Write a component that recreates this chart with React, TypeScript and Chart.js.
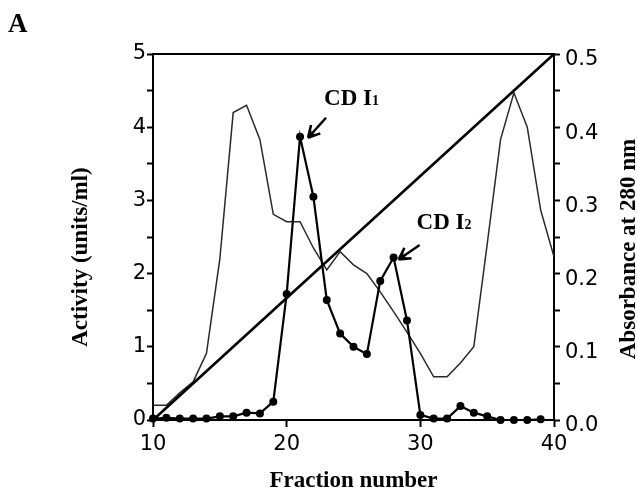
import React, { useEffect, useRef } from 'react';
import { Chart, registerables } from 'chart.js';

Chart.register(...registerables);

// Fraction numbers for the activity (filled circles) series
const activityFractions = [10, 11, 12, 13, 14, 15, 16, 17, 18, 19, 20, 21, 22, 23, 24, 25, 26, 27, 28, 29, 30, 31, 32, 33, 34, 35, 36, 37, 38, 39];
// Activity (units/ml)
const activity = [0.02, 0.03, 0.02, 0.02, 0.02, 0.05, 0.05, 0.1, 0.09, 0.25, 1.72, 3.87, 3.05, 1.64, 1.18, 1.0, 0.9, 1.9, 2.22, 1.36, 0.07, 0.02, 0.02, 0.19, 0.1, 0.05, 0.0, 0.0, 0.0, 0.01];

// Absorbance at 280 nm (thin line)
const absorbanceFractions = [10, 11, 12, 13, 14, 15, 16, 17, 18, 19, 20, 21, 22, 23, 24, 25, 26, 27, 28, 29, 30, 31, 32, 33, 34, 35, 36, 37, 38, 39, 40];
const absorbance = [0.02, 0.02, 0.037, 0.052, 0.091, 0.22, 0.42, 0.43, 0.383, 0.281, 0.271, 0.271, 0.235, 0.205, 0.23, 0.212, 0.2, 0.175, 0.148, 0.12, 0.091, 0.059, 0.059, 0.078, 0.1, 0.24, 0.383, 0.447, 0.4, 0.287, 0.223];

// Linear gradient (straight line)
const gradientFractions = [10, 40];
const gradient = [0, 5];

// Axis ranges / ticks
const xTickStep = 10;
const xRange = [10, 40];
const leftRange = [0, 5];
const leftStep = 0.5;
const rightRange = [0, 0.5];
const rightStep = 0.05;

// Annotations
const peakLabels = [
  { main: 'CD I', sub: '1', fraction: 21 },
  { main: 'CD I', sub: '2', fraction: 28 },
];

const panelLetter = 'A';
const xTitle = 'Fraction number';
const leftTitle = 'Activity (units/ml)';
const rightTitle = 'Absorbance at 280 nm';

const SERIF = '"Liberation Serif", "Times New Roman", serif';
const SANS = '"DejaVu Sans", Verdana, sans-serif';

function drawArrow(ctx: CanvasRenderingContext2D, tipX: number, tipY: number, tailX: number, tailY: number) {
  const ang = Math.atan2(tailY - tipY, tailX - tipX);
  ctx.save();
  ctx.strokeStyle = '#000';
  ctx.fillStyle = '#000';
  ctx.lineWidth = 2.5;
  ctx.lineCap = 'butt';
  ctx.beginPath();
  ctx.moveTo(tipX + Math.cos(ang) * 4, tipY + Math.sin(ang) * 4);
  ctx.lineTo(tailX, tailY);
  ctx.stroke();
  const armLen = 13;
  const spread = 0.5;
  const a1 = ang + spread;
  const a2 = ang - spread;
  const notch = 6;
  ctx.beginPath();
  ctx.moveTo(tipX, tipY);
  ctx.lineTo(tipX + Math.cos(a1) * armLen, tipY + Math.sin(a1) * armLen);
  ctx.lineTo(tipX + Math.cos(a1) * (armLen - 2.5), tipY + Math.sin(a1) * (armLen - 2.5));
  ctx.lineTo(tipX + Math.cos(ang) * notch, tipY + Math.sin(ang) * notch);
  ctx.lineTo(tipX + Math.cos(a2) * (armLen - 2.5), tipY + Math.sin(a2) * (armLen - 2.5));
  ctx.lineTo(tipX + Math.cos(a2) * armLen, tipY + Math.sin(a2) * armLen);
  ctx.closePath();
  ctx.fill();
  ctx.lineWidth = 2.5;
  ctx.beginPath();
  ctx.moveTo(tipX, tipY);
  ctx.lineTo(tipX + Math.cos(a1) * armLen, tipY + Math.sin(a1) * armLen);
  ctx.moveTo(tipX, tipY);
  ctx.lineTo(tipX + Math.cos(a2) * armLen, tipY + Math.sin(a2) * armLen);
  ctx.stroke();
  ctx.restore();
}

const decorPlugin = {
  id: 'decor',
  afterDraw(chart: any) {
    const ctx: CanvasRenderingContext2D = chart.ctx;
    const area = chart.chartArea;
    const xs = chart.scales.x;
    const ys = chart.scales.y;
    ctx.save();
    // top frame line
    ctx.strokeStyle = '#000';
    ctx.lineWidth = 2;
    ctx.beginPath();
    ctx.moveTo(area.left - 1, area.top);
    ctx.lineTo(area.right + 1, area.top);
    ctx.stroke();

    ctx.fillStyle = '#000';
    // panel letter
    ctx.font = `bold 27px ${SERIF}`;
    ctx.textAlign = 'left';
    ctx.textBaseline = 'alphabetic';
    ctx.fillText(panelLetter, 8, 32);

    // x title
    ctx.font = `bold 23px ${SERIF}`;
    ctx.textAlign = 'center';
    ctx.fillText(xTitle, (area.left + area.right) / 2, 487);

    // left title (rotated)
    ctx.save();
    ctx.translate(87, 257);
    ctx.rotate(-Math.PI / 2);
    ctx.textAlign = 'center';
    ctx.fillText(leftTitle, 0, 0);
    ctx.restore();

    // right title (rotated, reading upward)
    ctx.save();
    ctx.translate(635, 249);
    ctx.rotate(-Math.PI / 2);
    ctx.textAlign = 'center';
    ctx.fillText(rightTitle, 0, 0);
    ctx.restore();

    // peak annotations
    const offsets = [
      { tip: [8, 1], tail: [26, -19], label: [-2, -13] },
      { tip: [5, 2], tail: [26, -12.5], label: [-3, -15.5] },
    ];
    peakLabels.forEach((p, i) => {
      const idx = activityFractions.indexOf(p.fraction);
      const px = xs.getPixelForValue(p.fraction);
      const py = ys.getPixelForValue(activity[idx]);
      const o = offsets[i];
      const tipX = px + o.tip[0];
      const tipY = py + o.tip[1];
      const tailX = px + o.tail[0];
      const tailY = py + o.tail[1];
      drawArrow(ctx, tipX, tipY, tailX, tailY);
      const lx = tailX + o.label[0];
      const ly = tailY + o.label[1];
      ctx.textAlign = 'left';
      ctx.textBaseline = 'alphabetic';
      ctx.font = `bold 23px ${SERIF}`;
      ctx.fillText(p.main, lx, ly);
      const w = ctx.measureText(p.main).width;
      ctx.font = `bold 14px ${SERIF}`;
      ctx.fillText(p.sub, lx + w, ly);
    });
    ctx.restore();
  },
};

export default function App() {
  const canvasRef = useRef<HTMLCanvasElement | null>(null);

  useEffect(() => {
    document.body.style.margin = '0';
    const canvas = canvasRef.current;
    if (!canvas) return;

    const chart = new Chart(canvas, {
      type: 'line',
      data: {
        datasets: [
          {
            label: 'Activity',
            data: activityFractions.map((f, i) => ({ x: f, y: activity[i] })),
            yAxisID: 'y',
            borderColor: '#000',
            backgroundColor: '#000',
            borderWidth: 2.2,
            pointRadius: 4,
            pointBackgroundColor: '#000',
            pointBorderColor: '#000',
            pointBorderWidth: 0,
            tension: 0,
            clip: false as any,
          },
          {
            label: 'Gradient',
            data: gradientFractions.map((f, i) => ({ x: f, y: gradient[i] })),
            yAxisID: 'y',
            borderColor: '#000',
            borderWidth: 2.6,
            pointRadius: 0,
            tension: 0,
            clip: false as any,
          },
          {
            label: 'Absorbance at 280 nm',
            data: absorbanceFractions.map((f, i) => ({ x: f, y: absorbance[i] })),
            yAxisID: 'y1',
            borderColor: '#2a2a2a',
            borderWidth: 1.5,
            pointRadius: 0,
            tension: 0,
            clip: false as any,
          },
        ],
      },
      options: {
        responsive: false,
        animation: false,
        events: [],
        layout: { padding: { top: 54, left: 0, right: 0, bottom: 0 } },
        plugins: {
          legend: { display: false },
          tooltip: { enabled: false },
          title: { display: false },
        },
        scales: {
          x: {
            type: 'linear',
            position: 'bottom',
            min: xRange[0],
            max: xRange[1],
            afterFit: (s: any) => { s.height = 68; },
            ticks: {
              stepSize: xTickStep,
              color: '#000',
              font: { family: SANS, size: 21 },
              padding: 5,
              maxRotation: 0,
              autoSkip: false,
            },
            grid: { drawOnChartArea: false, drawTicks: true, tickLength: 7, tickWidth: 2, tickColor: '#000' },
            border: { display: true, color: '#000', width: 2 },
          },
          y: {
            type: 'linear',
            position: 'left',
            min: leftRange[0],
            max: leftRange[1],
            afterFit: (s: any) => { s.width = 153; },
            ticks: {
              stepSize: leftStep,
              color: '#000',
              font: { family: SANS, size: 21 },
              padding: 1,
              autoSkip: false,
              callback: (v: any) => (Number.isInteger(Number(v)) ? String(v) : ''),
            },
            grid: { drawOnChartArea: false, drawTicks: true, tickLength: 6, tickWidth: 2, tickColor: '#000' },
            border: { display: true, color: '#000', width: 2 },
          },
          y1: {
            type: 'linear',
            position: 'right',
            min: rightRange[0],
            max: rightRange[1],
            afterFit: (s: any) => { s.width = 83; },
            ticks: {
              stepSize: rightStep,
              color: '#000',
              font: { family: SANS, size: 21 },
              padding: 5,
              labelOffset: 6,
              autoSkip: false,
              callback: (v: any) => {
                const r = Math.round(Number(v) * 100);
                return r % 10 === 0 ? (r / 100).toFixed(1) : '';
              },
            },
            grid: { drawOnChartArea: false, drawTicks: true, tickLength: 6, tickWidth: 2, tickColor: '#000' },
            border: { display: true, color: '#000', width: 2 },
          },
        },
      },
      plugins: [decorPlugin],
    });

    return () => {
      chart.destroy();
    };
  }, []);

  return (
    <div style={{ width: 637, height: 488, background: '#fff' }}>
      <canvas ref={canvasRef} width={637} height={488} style={{ display: 'block' }} />
    </div>
  );
}
